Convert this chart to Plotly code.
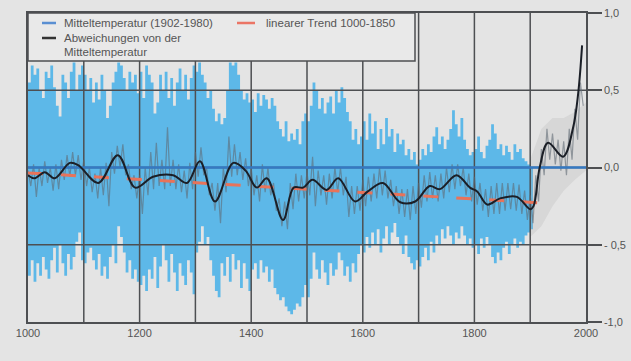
import plotly.graph_objects as go

# ---------------- data ----------------
band_years = list(range(1000, 1910, 5))
blue_top = [
    0.55, 0.66, 0.60, 0.64, 0.50, 0.45, 0.62, 0.58, 0.66, 0.52, 0.40, 0.33, 0.60, 0.55, 0.45, 0.62, 0.68, 0.50, 0.60, 0.66,
    0.60, 0.50, 0.58, 0.42, 0.55, 0.44, 0.60, 0.50, 0.32, 0.40, 0.55, 0.62, 0.68, 0.66, 0.58, 0.50, 0.62, 0.55, 0.60, 0.48,
    0.62, 0.45, 0.66, 0.60, 0.55, 0.35, 0.42, 0.60, 0.50, 0.62, 0.45, 0.58, 0.40, 0.55, 0.64, 0.50, 0.60, 0.44, 0.58, 0.66,
    0.62, 0.68, 0.60, 0.55, 0.45, 0.50, 0.38, 0.30, 0.35, 0.28, 0.32, 0.50, 0.68, 0.66, 0.68, 0.60, 0.50, 0.44, 0.48, 0.42,
    0.44, 0.36, 0.48, 0.40, 0.47, 0.44, 0.38, 0.45, 0.40, 0.30, 0.25, 0.20, 0.30, 0.17, 0.22, 0.18, 0.25, 0.15, 0.30, 0.35,
    0.30, 0.40, 0.55, 0.50, 0.38, 0.45, 0.35, 0.42, 0.46, 0.35, 0.50, 0.42, 0.52, 0.45, 0.36, 0.30, 0.18, 0.25, 0.15, 0.20,
    0.30, 0.18, 0.35, 0.22, 0.30, 0.12, 0.25, 0.15, 0.32, 0.20, 0.25, 0.10, 0.22, 0.15, 0.18, 0.08, 0.12, 0.05, 0.10, 0.02,
    0.05, 0.12, 0.08, 0.15, 0.10, 0.20, 0.26, 0.15, 0.20, 0.12, 0.18, 0.25, 0.37, 0.28, 0.20, 0.32, 0.18, 0.12, 0.08, 0.10,
    0.12, 0.20, 0.10, 0.06, 0.14, 0.18, 0.28, 0.22, 0.12, 0.15, 0.08, 0.14, 0.10, 0.05, 0.15, 0.10, 0.12, 0.06, 0.04, 0.02,
    0.00, -0.05,
]
blue_bottom = [
    -0.70, -0.60, -0.74, -0.62, -0.70, -0.58, -0.66, -0.72, -0.60, -0.52, -0.68, -0.50, -0.62, -0.70, -0.56, -0.66, -0.58, -0.48, -0.42, -0.60,
    -0.62, -0.55, -0.52, -0.60, -0.66, -0.56, -0.70, -0.64, -0.72, -0.58, -0.50, -0.62, -0.38, -0.45, -0.55, -0.68, -0.60, -0.72, -0.66, -0.74,
    -0.76, -0.70, -0.80, -0.66, -0.72, -0.58, -0.78, -0.64, -0.50, -0.60, -0.74, -0.56, -0.68, -0.80, -0.62, -0.70, -0.76, -0.60, -0.68, -0.82,
    -0.55, -0.48, -0.38, -0.50, -0.45, -0.60, -0.70, -0.80, -0.84, -0.62, -0.70, -0.58, -0.74, -0.56, -0.66, -0.60, -0.78, -0.62, -0.72, -0.80,
    -0.66, -0.62, -0.72, -0.60, -0.68, -0.64, -0.74, -0.66, -0.78, -0.82, -0.86, -0.84, -0.90, -0.93, -0.95, -0.92, -0.88, -0.90, -0.84, -0.76,
    -0.84, -0.72, -0.55, -0.66, -0.72, -0.60, -0.68, -0.76, -0.62, -0.70, -0.66, -0.55, -0.60, -0.70, -0.64, -0.74, -0.62, -0.68, -0.56, -0.50,
    -0.55, -0.45, -0.52, -0.42, -0.50, -0.40, -0.55, -0.46, -0.38, -0.50, -0.42, -0.36, -0.45, -0.50, -0.56, -0.44, -0.58, -0.62, -0.66, -0.60,
    -0.64, -0.58, -0.52, -0.60, -0.48, -0.55, -0.44, -0.50, -0.40, -0.46, -0.38, -0.44, -0.50, -0.42, -0.46, -0.38, -0.44, -0.50, -0.46, -0.52,
    -0.50, -0.56, -0.46, -0.52, -0.45, -0.50, -0.58, -0.62, -0.55, -0.60, -0.52, -0.48, -0.56, -0.50, -0.46, -0.52, -0.48, -0.50, -0.44, -0.42,
    -0.40, -0.30,
]

annual_years = list(range(1000, 2000, 5))
annual_vals = [
    -0.02, -0.12, 0.02, -0.19, 0.00, -0.12, 0.04, -0.10, 0.00, -0.15, 0.02, -0.14, 0.05, -0.08, 0.08, -0.06, 0.10, -0.05, 0.08, -0.08,
    0.05, -0.12, 0.00, -0.16, -0.04, -0.20, 0.00, -0.18, 0.03, -0.25, 0.10, -0.04, 0.14, 0.00, 0.15, -0.05, 0.02, -0.14, -0.05, -0.20,
    -0.05, -0.30, 0.00, -0.18, 0.10, -0.14, 0.16, -0.12, 0.05, -0.14, 0.26, -0.12, 0.05, -0.14, 0.02, -0.16, -0.02, -0.20, 0.03, -0.14,
    0.10, -0.06, 0.13, -0.05, 0.00, -0.18, -0.10, -0.28, -0.10, -0.36, 0.00, -0.16, 0.20, -0.06, 0.15, -0.05, 0.10, -0.08, 0.06, -0.12,
    0.00, -0.18, -0.05, -0.22, 0.02, -0.16, 0.00, -0.18, -0.10, -0.28, -0.20, -0.38, -0.22, -0.40, -0.10, -0.27, -0.04, -0.22, -0.05, -0.20,
    -0.03, -0.18, 0.07, -0.25, -0.02, -0.18, -0.05, -0.24, -0.04, -0.20, 0.00, -0.16, 0.00, -0.18, -0.06, -0.32, -0.12, -0.30, -0.12, -0.28,
    -0.08, -0.25, -0.06, -0.22, -0.04, -0.20, 0.00, -0.18, -0.02, -0.20, -0.08, -0.25, -0.12, -0.30, -0.14, -0.32, -0.14, -0.34, -0.12, -0.30,
    -0.10, -0.26, -0.05, -0.22, -0.03, -0.20, -0.05, -0.22, -0.04, -0.20, 0.00, -0.16, 0.02, -0.14, 0.02, -0.12, 0.00, -0.18, -0.04, -0.22,
    -0.06, -0.24, -0.10, -0.28, -0.14, -0.32, -0.12, -0.30, -0.10, -0.30, -0.10, -0.28, -0.10, -0.27, -0.10, -0.28, -0.11, -0.30, -0.15, -0.34,
    -0.18, -0.36, -0.05, -0.22, 0.12, -0.05, 0.25, 0.05, 0.22, 0.02, 0.18, -0.02, 0.17, -0.05, 0.25, 0.05, 0.38, 0.18, 0.55, 0.40,
]

smooth_years = [1000, 1012, 1030, 1048, 1075, 1090, 1126, 1161, 1192, 1224, 1260, 1285, 1308, 1335, 1368,
                1390, 1410, 1428, 1457, 1476, 1493, 1510, 1535, 1556, 1586, 1609, 1636, 1667, 1694, 1720,
                1738, 1768, 1792, 1805, 1823, 1846, 1876, 1900, 1906, 1917, 1932, 1959, 1977, 1986, 1993]
smooth_vals = [-0.05, -0.07, -0.03, -0.07, 0.03, 0.015, -0.10, 0.08, -0.13, -0.06, -0.05, -0.10, 0.04, -0.22, 0.03,
               -0.02, -0.13, -0.07, -0.34, -0.13, -0.13, -0.08, -0.145, -0.07, -0.22, -0.155, -0.10, -0.225, -0.22, -0.12,
               -0.14, -0.05, -0.13, -0.155, -0.24, -0.20, -0.19, -0.27, -0.25, 0.00, 0.16, 0.07, 0.26, 0.48, 0.79]

trend_years = [1000, 1915]
trend_vals = [-0.035, -0.228]

mean_years = [1000, 2000]
mean_vals = [0.0, 0.0]

unc_years = [1900, 1920, 1940, 1960, 1980, 2000]
unc_upper = [0.05, 0.25, 0.32, 0.32, 0.36, 0.42]
unc_lower = [-0.45, -0.38, -0.25, -0.15, -0.08, -0.02]

x_grid = list(range(1000, 2001, 100))
x_tickvals = [1000, 1200, 1400, 1600, 1800, 2000]
x_ticktext = ["1000", "1200", "1400", "1600", "1800", "2000"]
y_tickvals = [-1.0, -0.5, 0.0, 0.5, 1.0]
y_ticktext = ["-1,0", "- 0,5", "0,0", "0,5", "1,0"]

legend_labels = ["Mitteltemperatur (1902-1980)", "linearer Trend 1000-1850",
                 "Abweichungen von der", "Mitteltemperatur"]

# ---------------- styling ----------------
W, H = 631, 361
ML, MR, MT, MB = 28, 45, 13, 39
BG = "#e4e4e4"
GRID = "#4d4f52"
TXT = "#555555"
FONT = "Liberation Sans, Arial, sans-serif"
BLUE_FILL = "#5db8e8"
BLUE_LINE = "#3579c2"
RED = "#e8735a"
BLACK = "#1b1f27"


def px(xp):
    return (xp - ML) / (W - ML - MR)


def py(yp):
    return (H - MB - yp) / (H - MT - MB)


fig = go.Figure()

# blue spread band
fig.add_trace(go.Scatter(x=band_years, y=blue_bottom, mode="lines", line=dict(width=0, shape="hv"),
                         hoverinfo="skip", showlegend=False))
fig.add_trace(go.Scatter(x=band_years, y=blue_top, mode="lines", line=dict(width=0, shape="hv"),
                         fill="tonexty", fillcolor=BLUE_FILL, hoverinfo="skip", showlegend=False))

# pale grey uncertainty (instrumental era)
fig.add_trace(go.Scatter(x=unc_years, y=unc_lower, mode="lines", line=dict(width=0),
                         hoverinfo="skip", showlegend=False))
fig.add_trace(go.Scatter(x=unc_years, y=unc_upper, mode="lines", line=dict(width=0),
                         fill="tonexty", fillcolor="rgba(175,175,175,0.25)", hoverinfo="skip", showlegend=False))

# grid lines (drawn over the blue band)
gx, gy = [], []
for xv in x_grid[1:-1]:
    gx += [xv, xv, None]
    gy += [y_tickvals[0], y_tickvals[-1], None]
for yv in y_tickvals[1:-1]:
    gx += [x_grid[0], x_grid[-1], None]
    gy += [yv, yv, None]
fig.add_trace(go.Scatter(x=gx, y=gy, mode="lines", line=dict(color=GRID, width=1.5),
                         hoverinfo="skip", showlegend=False))

# annual values (grey)
fig.add_trace(go.Scatter(x=annual_years, y=annual_vals, mode="lines",
                         line=dict(color="rgba(95,105,115,0.6)", width=1.2),
                         hoverinfo="skip", showlegend=False))

# mean temperature line
fig.add_trace(go.Scatter(x=mean_years, y=mean_vals, mode="lines",
                         line=dict(color=BLUE_LINE, width=2.5), hoverinfo="skip", showlegend=False))

# linear trend
fig.add_trace(go.Scatter(x=trend_years, y=trend_vals, mode="lines",
                         line=dict(color=RED, width=3, dash="15px,18px"), hoverinfo="skip", showlegend=False))

# smoothed deviations
fig.add_trace(go.Scatter(x=smooth_years, y=smooth_vals, mode="lines",
                         line=dict(color=BLACK, width=2, shape="spline", smoothing=1.0),
                         hoverinfo="skip", showlegend=False))

# ---------------- legend box ----------------
shapes = [
    dict(type="rect", xref="paper", yref="paper", x0=px(28), x1=px(415), y0=py(61), y1=1,
         fillcolor="#e9e9e9", line=dict(color=GRID, width=1.5), layer="above"),
    dict(type="line", xref="paper", yref="paper", x0=px(42), x1=px(56), y0=py(23), y1=py(23),
         line=dict(color="#5a8fd2", width=2.5), layer="above"),
    dict(type="line", xref="paper", yref="paper", x0=px(237), x1=px(255), y0=py(23), y1=py(23),
         line=dict(color="#eb7565", width=2.5), layer="above"),
    dict(type="line", xref="paper", yref="paper", x0=px(42), x1=px(56), y0=py(38), y1=py(38),
         line=dict(color="#333333", width=2.5), layer="above"),
]
ann_pos = [(62, 23), (264, 23), (62, 38), (62, 52)]
annotations = []
for (axp, ayp), txt in zip(ann_pos, legend_labels):
    annotations.append(dict(x=px(axp), y=py(ayp), xref="paper", yref="paper", text=txt, showarrow=False,
                            xanchor="left", yanchor="middle", font=dict(size=11.5, color=TXT, family=FONT)))

fig.update_layout(
    width=W, height=H,
    margin=dict(l=ML, r=MR, t=MT, b=MB, autoexpand=False),
    paper_bgcolor=BG, plot_bgcolor=BG,
    shapes=shapes, annotations=annotations,
    font=dict(family=FONT, size=11, color=TXT),
    showlegend=False,
    xaxis=dict(range=[1000, 2000], showgrid=False, zeroline=False,
               tickvals=x_tickvals, ticktext=x_ticktext, ticks="",
               showline=True, mirror=True, linecolor=GRID, linewidth=1.5,
               tickfont=dict(size=11, color=TXT, family=FONT)),
    yaxis=dict(range=[-1.0, 1.0], side="right", showgrid=False, zeroline=False,
               tickvals=y_tickvals, ticktext=y_ticktext, ticks="outside", ticklen=14,
               tickwidth=1.5, tickcolor=GRID,
               showline=True, mirror=True, linecolor=GRID, linewidth=1.5,
               tickfont=dict(size=11, color=TXT, family=FONT)),
)

fig.write_html("out.html", config={"displayModeBar": False},
               post_script="document.body.style.margin='0';document.body.style.overflow='hidden';")
